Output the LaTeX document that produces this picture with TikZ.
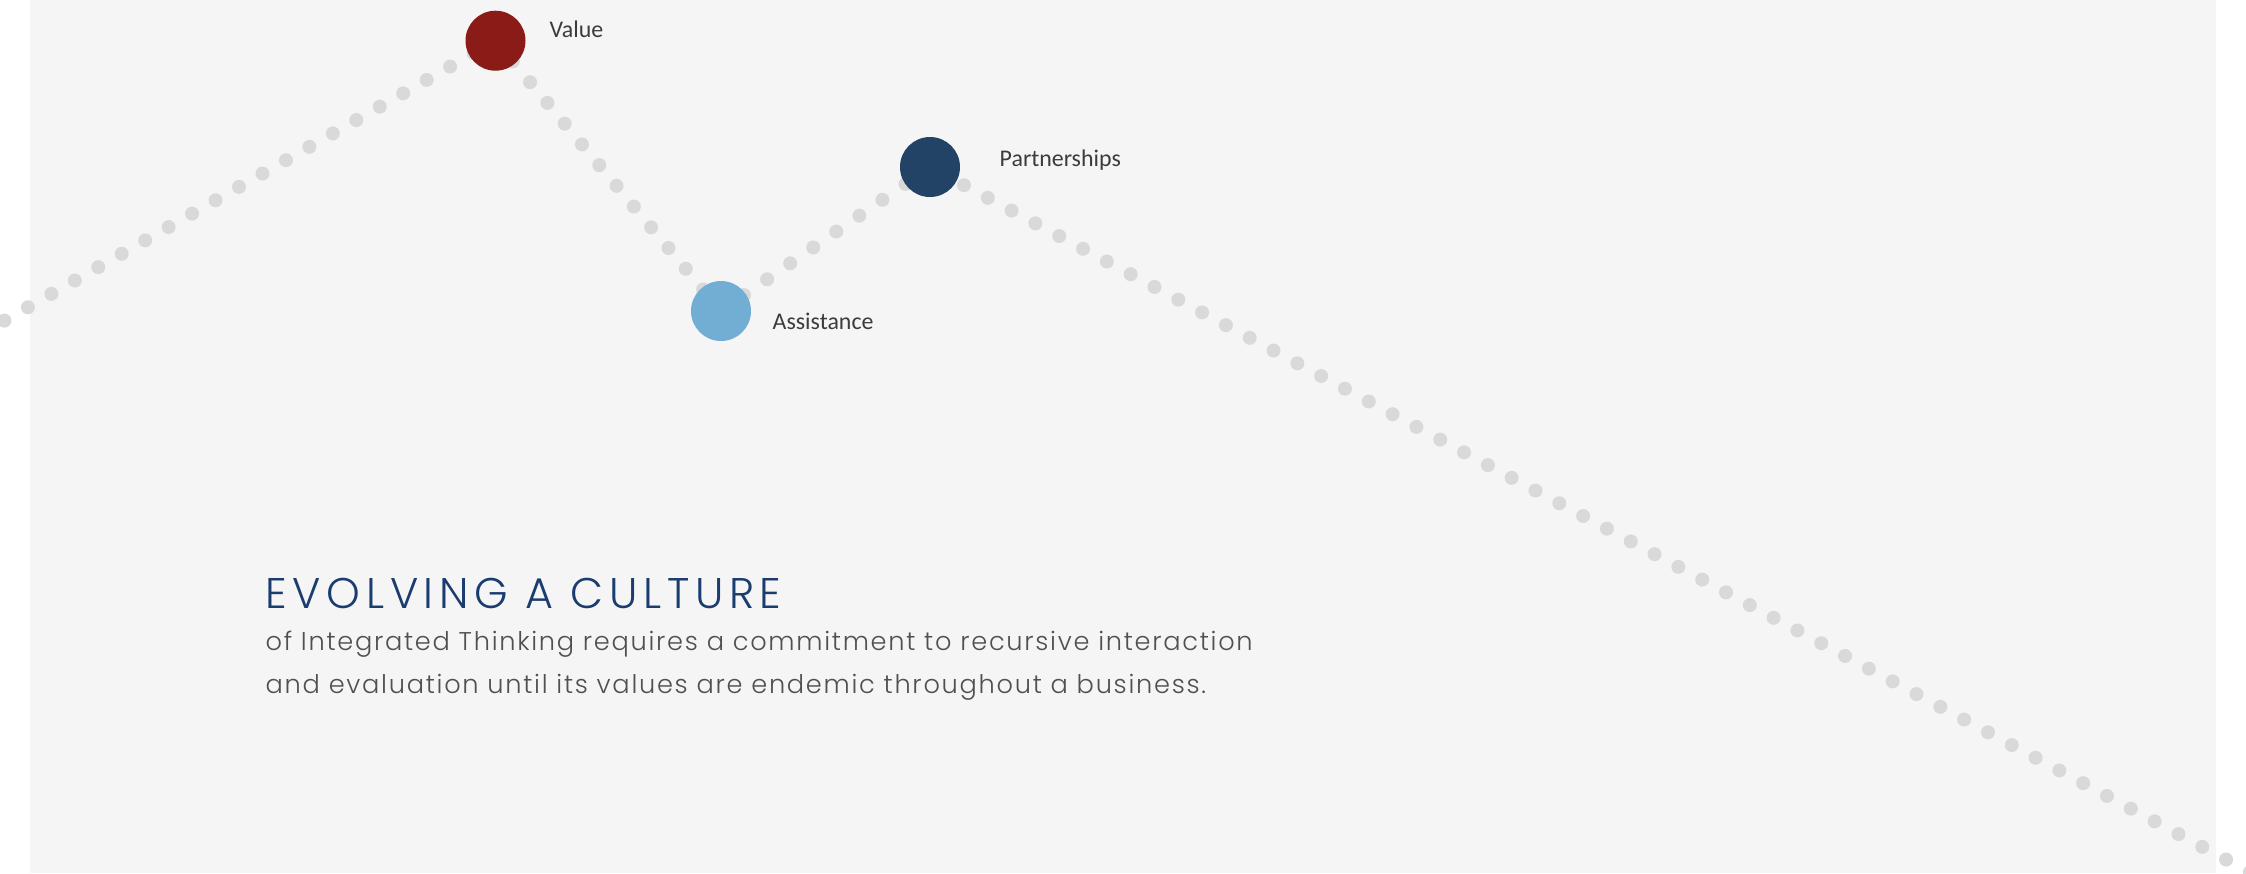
\documentclass[tikz,border=0pt]{standalone}
\usepackage{fontspec}
\usepackage{xcolor}
\usetikzlibrary{backgrounds}

\newfontfamily\labelfont{Carlito}
\newfontfamily\headfont{Poppins Light}[LetterSpace=13.2]
\newfontfamily\blurbfont{Poppins Light}[LetterSpace=6.7]

\definecolor{paper}{HTML}{F5F5F5}
\definecolor{dotgray}{HTML}{D9D9D9}
\definecolor{valuered}{HTML}{8A1B16}
\definecolor{assistblue}{HTML}{72ADD4}
\definecolor{partnernavy}{HTML}{224266}
\definecolor{titleblue}{HTML}{1B3C6E}
\definecolor{bodygray}{HTML}{505050}
\definecolor{labelgray}{HTML}{3C3C3C}

\tikzset{
  milestone/.style={circle, fill=#1, minimum size=6mm, inner sep=0pt},
  dotline/.style={dotgray, line width=1.4mm, line cap=round, dash pattern=on 0pt off #1},
  dotline/.default=2.7mm,
  tag/.style={anchor=base west, inner sep=0pt, text=labelgray, font=\labelfont\fontsize{6.8}{8}\selectfont},
  headline/.style={anchor=base west, inner sep=0pt, text=titleblue, font=\headfont\fontsize{12.2}{14}\selectfont},
  blurb/.style={anchor=base west, inner sep=0pt, text=bodygray, font=\blurbfont\fontsize{7.3}{9}\selectfont},
}

\begin{document}
\begin{tikzpicture}[x=0.1mm, y=-0.1mm]
    \useasboundingbox (0,0) rectangle (2246,873);
    \clip (0,0) rectangle (2246,873);

    % milestones along the trail
    \node[milestone=valuered] (value) at (495.5,40.7) {};
    \node[milestone=assistblue] (assist) at (721,311) {};
    \node[milestone=partnernavy] (partner) at (930,167) {};
    \coordinate (start) at (-19,334);
    \coordinate (finish) at (2270,883);

    \node[tag] (valuetag) at (549,37.3) {Value};
    \node[tag] (assisttag) at (772,329) {Assistance};
    \node[tag] (partnertag) at (999,166.7) {Partnerships};

    % panel and dotted trail behind the circles
    \begin{scope}[on background layer]
        \fill[white] (0,0) rectangle (2246,873);
        \fill[paper] (30,0) rectangle (2216,873);
        \draw[dotline] (start) -- (value.center);
        \draw[dotline] (value.center) -- (assist.center);
        \draw[dotline=2.8mm] (assist.center) -- (partner.center);
        \draw[dotline, dash phase=1.55mm] (partner.center) -- (finish);
    \end{scope}

    % caption
    \node[headline] (title) at (265,608.3) {EVOLVING A CULTURE};
    \node[blurb] (line1) at (265,650.7) {of Integrated Thinking requires a commitment to recursive interaction};
    \node[blurb] (line2) at (265,693.3) {and evaluation until its values are endemic throughout a business.};
\end{tikzpicture}
\end{document}
